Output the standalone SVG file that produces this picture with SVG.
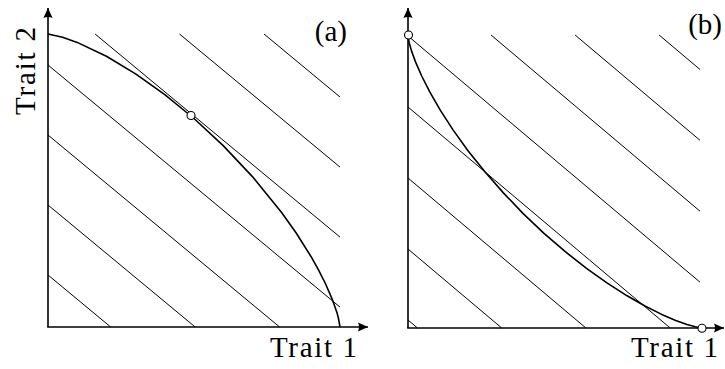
<svg xmlns="http://www.w3.org/2000/svg" width="725" height="369" viewBox="0 0 725 369">
<style>
.bg{fill:#fff}
.axis{stroke:#000;stroke-width:1.6;fill:none}
.hatch{stroke:#000;stroke-width:1;fill:none}
.curve{stroke:#000;stroke-width:1.6;fill:none;stroke-linejoin:round}
.pt{fill:#fff;stroke:#000;stroke-width:1.1}
.lbl{font-size:29px;fill:#000}
</style>
<defs>
<marker id="arr" markerUnits="userSpaceOnUse" viewBox="-11 -5 12 10" refX="0" refY="0" markerWidth="12" markerHeight="10" orient="auto">
<path d="M0,0 L-10,-4.6 Q-8,0 -10,4.6 Z" fill="#000"/>
</marker>
</defs>
<rect class="bg" width="725" height="369"/>
<g id="panel-a">
<g id="hatch-a" class="hatch">
<line x1="48" y1="275" x2="110.7" y2="327"/>
<line x1="48" y1="205" x2="195.2" y2="327"/>
<line x1="48" y1="135" x2="279.6" y2="327"/>
<line x1="48" y1="65" x2="340" y2="307.1"/>
<line x1="95.1" y1="34" x2="340" y2="237.1"/>
<line x1="179.5" y1="34" x2="340" y2="167.1"/>
<line x1="264" y1="34" x2="340" y2="97"/>
</g>
<g id="axes-a">
<line class="axis" x1="48" y1="327" x2="48" y2="8" marker-end="url(#arr)"/>
<line class="axis" x1="47.2" y1="327" x2="368" y2="327" marker-end="url(#arr)"/>
</g>
<polyline id="curve-a" class="curve" points="48,34 62.6,37.2 77.2,42.4 106.4,56.3 135.6,73.9 164.8,94.7 194,118.5 223.2,145.6 252.4,176.6 281.6,212.5 296.2,233 310.8,256.2 318.1,269.1 325.4,283.5 332.7,300.4 337.1,313.1 338.5,318.5 340,327"/>
<circle id="point-a" class="pt" cx="191" cy="115.5" r="4"/>
<text id="label-a" class="lbl" font-family="'Liberation Serif','DejaVu Serif',serif" x="347" y="41" text-anchor="end">(a)</text>
<text id="xlabel-a" class="lbl" font-family="'Liberation Serif','DejaVu Serif',serif" x="357" y="357" text-anchor="end" textLength="87">Trait 1</text>
<text id="ylabel-a" class="lbl" font-family="'Liberation Serif','DejaVu Serif',serif" transform="translate(35,115) rotate(-90)" textLength="88">Trait 2</text>
</g>
<g id="panel-b">
<g id="hatch-b" class="hatch">
<line x1="408" y1="36" x2="700" y2="282.2"/>
<line x1="491" y1="35" x2="700" y2="211.2"/>
<line x1="575.1" y1="35" x2="700" y2="140.3"/>
<line x1="659.1" y1="35" x2="700" y2="69.5"/>
<line x1="408" y1="107" x2="670.2" y2="328"/>
<line x1="408" y1="178" x2="585.9" y2="328"/>
<line x1="408" y1="249" x2="501.7" y2="328"/>
<line x1="408" y1="320" x2="417.5" y2="328"/>
</g>
<g id="axes-b">
<line class="axis" x1="408" y1="328" x2="408" y2="8" marker-end="url(#arr)"/>
<line class="axis" x1="407.2" y1="328" x2="724" y2="328" marker-end="url(#arr)"/>
</g>
<polyline id="curve-b" class="curve" points="408,36 408.2,37.7 409.2,42.7 411.5,50.9 415.6,62.1 421.7,76 429.9,92.2 440.4,110.4 453.2,130.1 468,150.7 484.9,171.8 503.4,192.9 523.2,213.6 544,233.3 565.3,251.7 586.5,268.4 607.3,283.1 627.1,295.8 645.4,306.2 661.7,314.4 675.7,320.4 687,324.5 695.3,326.8 700.3,327.8 702,328"/>
<circle id="point-b1" class="pt" cx="408.5" cy="35" r="4"/>
<circle id="point-b2" class="pt" cx="702" cy="328.3" r="4"/>
<text id="label-b" class="lbl" font-family="'Liberation Serif','DejaVu Serif',serif" x="722" y="34" text-anchor="end">(b)</text>
<text id="xlabel-b" class="lbl" font-family="'Liberation Serif','DejaVu Serif',serif" x="718" y="357" text-anchor="end" textLength="87">Trait 1</text>
</g>
</svg>
